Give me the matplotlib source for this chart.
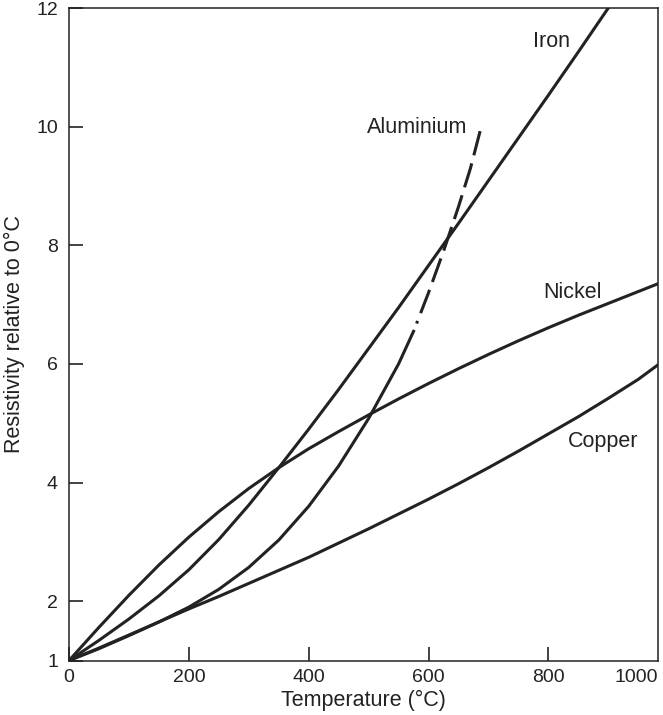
import numpy as np
import matplotlib
matplotlib.use("Agg")
import matplotlib.pyplot as plt

plt.rcParams['font.family'] = ['Liberation Sans', 'DejaVu Sans']
plt.rcParams['lines.scale_dashes'] = False

# temperature (deg C) and resistivity relative to 0 deg C
T_copper = [0, 50, 100, 150, 200, 250, 300, 350, 400, 450, 500, 550, 600, 650,
            700, 750, 800, 850, 900, 950, 985]
R_copper = [1.0, 1.21, 1.43, 1.65, 1.87, 2.08, 2.30, 2.52, 2.74, 2.98, 3.22, 3.47,
            3.72, 3.98, 4.25, 4.53, 4.82, 5.11, 5.42, 5.74, 6.0]

T_nickel = [0, 50, 100, 150, 200, 250, 300, 350, 400, 450, 500, 550, 600, 650,
            700, 750, 800, 850, 900, 950, 985]
R_nickel = [1.0, 1.56, 2.10, 2.61, 3.08, 3.51, 3.90, 4.25, 4.57, 4.86, 5.14, 5.41,
            5.67, 5.92, 6.16, 6.39, 6.61, 6.82, 7.02, 7.22, 7.36]

T_iron = [0, 50, 100, 150, 200, 250, 300, 350, 400, 450, 500, 550, 600, 650,
          700, 750, 800, 850, 900]
R_iron = [1.0, 1.34, 1.70, 2.09, 2.53, 3.04, 3.62, 4.25, 4.90, 5.57, 6.26, 6.95,
          7.66, 8.37, 9.09, 9.81, 10.53, 11.26, 12.0]

# aluminium: measured part (solid) and extrapolated part (dashed)
T_alu = [0, 50, 100, 150, 200, 250, 300, 350, 400, 450, 500, 550, 575]
R_alu = [1.0, 1.20, 1.42, 1.65, 1.90, 2.20, 2.57, 3.03, 3.60, 4.28, 5.08, 6.00, 6.55]
T_alu_ext = [575, 600, 625, 650, 670, 688]
R_alu_ext = [6.55, 7.20, 7.90, 8.65, 9.30, 10.0]

x_ticks = [0, 200, 400, 600, 800]
y_ticks = [1, 2, 4, 6, 8, 10, 12]

ink = '#222222'

fig = plt.figure(figsize=(6.63, 7.15), dpi=100)
ax = fig.add_axes([0.1041, 0.0762, 0.9925 - 0.1041, 0.9888 - 0.0762])

lw = 2.2
ax.plot(T_copper, R_copper, color=ink, lw=lw)
ax.plot(T_nickel, R_nickel, color=ink, lw=lw)
ax.plot(T_iron, R_iron, color=ink, lw=lw)
ax.plot(T_alu, R_alu, color=ink, lw=lw)
ax.plot(T_alu_ext, R_alu_ext, color=ink, lw=lw, dash_capstyle='butt',
        linestyle=(0, (0.01, 6, 2, 6, 18, 6, 18, 6, 18, 6, 18, 6, 18, 6, 18, 6)))

ax.set_xlim(0, 983)
ax.set_ylim(1, 12)
ax.set_xticks(x_ticks)
ax.set_yticks(y_ticks)
ax.tick_params(direction='in', length=10, width=1.2, colors=ink,
               labelsize=14, top=False, right=False)
ax.tick_params(axis='x', pad=6)
ax.tick_params(axis='y', pad=8)
ax.annotate('1000', xy=(1.0, 0.0), xycoords='axes fraction',
            xytext=(0, -6), textcoords='offset points',
            ha='right', va='top', fontsize=14, color=ink)

for sp in ax.spines.values():
    sp.set_linewidth(1.1)
    sp.set_color(ink)

ax.set_xlabel('Temperature (°C)', fontsize=15.5, color=ink, labelpad=3)
ax.set_ylabel('Resistivity relative to 0°C', fontsize=15.5, color=ink, labelpad=8)

ax.text(806, 11.43, 'Iron', fontsize=15.5, color=ink, ha='center', va='center')
ax.text(581, 9.98, 'Aluminium', fontsize=15.5, color=ink, ha='center', va='center')
ax.text(841, 7.21, 'Nickel', fontsize=15.5, color=ink, ha='center', va='center')
ax.text(891, 4.70, 'Copper', fontsize=15.5, color=ink, ha='center', va='center')

fig.savefig('out.png', dpi=100)
